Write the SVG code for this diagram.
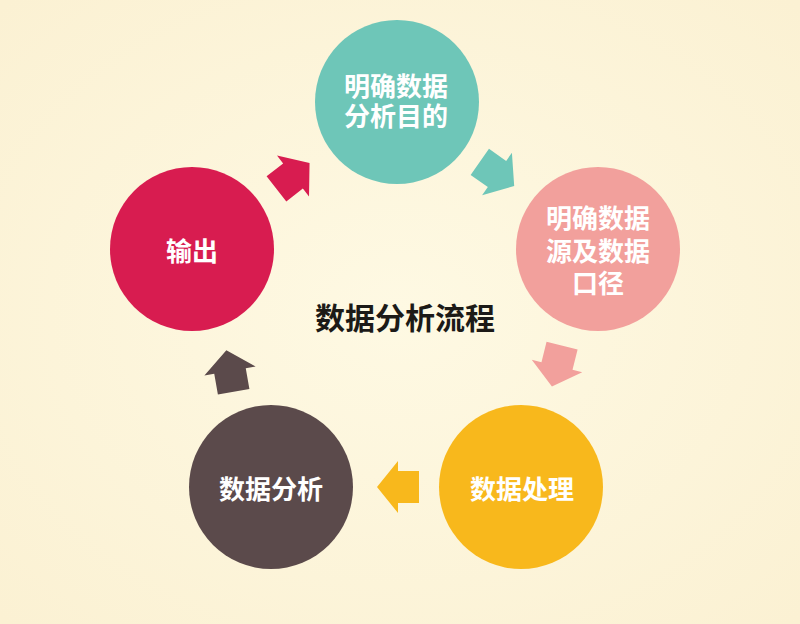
<svg xmlns="http://www.w3.org/2000/svg" width="800" height="624" viewBox="0 0 800 624">
<defs>
<radialGradient id="bg" cx="50%" cy="50%" r="70%">
<stop offset="0" stop-color="#fef9e3"/>
<stop offset="1" stop-color="#fbf1d3"/>
</radialGradient>
<path id="arr" d="M21,0 L0,-26 L0,-16 L-21,-16 L-21,16 L0,16 L0,26 Z"/>
<style>
.lbl{font-family:"Noto Sans CJK SC","Noto Sans",sans-serif;font-weight:700;font-size:26px;fill:#ffffff;text-anchor:middle;dominant-baseline:central}
.title{font-family:"Noto Sans CJK SC","Noto Sans",sans-serif;font-weight:700;font-size:30px;fill:#1c1a17;text-anchor:middle;dominant-baseline:central}
</style>
</defs>
<rect width="800" height="624" fill="url(#bg)"/>
<g id="connectors">
<use href="#arr" fill="#d81c50" transform="translate(293,176) rotate(-38)"/>
<use href="#arr" fill="#6ec6b8" transform="translate(497,174) rotate(35)"/>
<use href="#arr" fill="#f2a09c" transform="translate(557,366) rotate(104)"/>
<use href="#arr" fill="#f8b81c" transform="translate(398,487) rotate(180)"/>
<use href="#arr" fill="#5b4a4b" transform="translate(230,371) rotate(-100)"/>
</g>
<g id="n1">
<circle cx="397" cy="102" r="82" fill="#6ec6b8"/>
<text class="lbl"><tspan x="396" y="84">明确数据</tspan><tspan x="396" y="114">分析目的</tspan></text>
</g>
<g id="n2">
<circle cx="598" cy="249" r="82" fill="#f2a09c"/>
<text class="lbl"><tspan x="598" y="216">明确数据</tspan><tspan x="598" y="249">源及数据</tspan><tspan x="598" y="281">口径</tspan></text>
</g>
<g id="n3">
<circle cx="521" cy="487" r="82" fill="#f8b81c"/>
<text class="lbl" x="522" y="487">数据处理</text>
</g>
<g id="n4">
<circle cx="271" cy="487" r="82" fill="#5b4a4b"/>
<text class="lbl" x="271" y="487">数据分析</text>
</g>
<g id="n5">
<circle cx="192" cy="249" r="82" fill="#d81c50"/>
<text class="lbl" x="192" y="249">输出</text>
</g>
<g id="title">
<text class="title" x="405" y="316">数据分析流程</text>
</g>
</svg>
